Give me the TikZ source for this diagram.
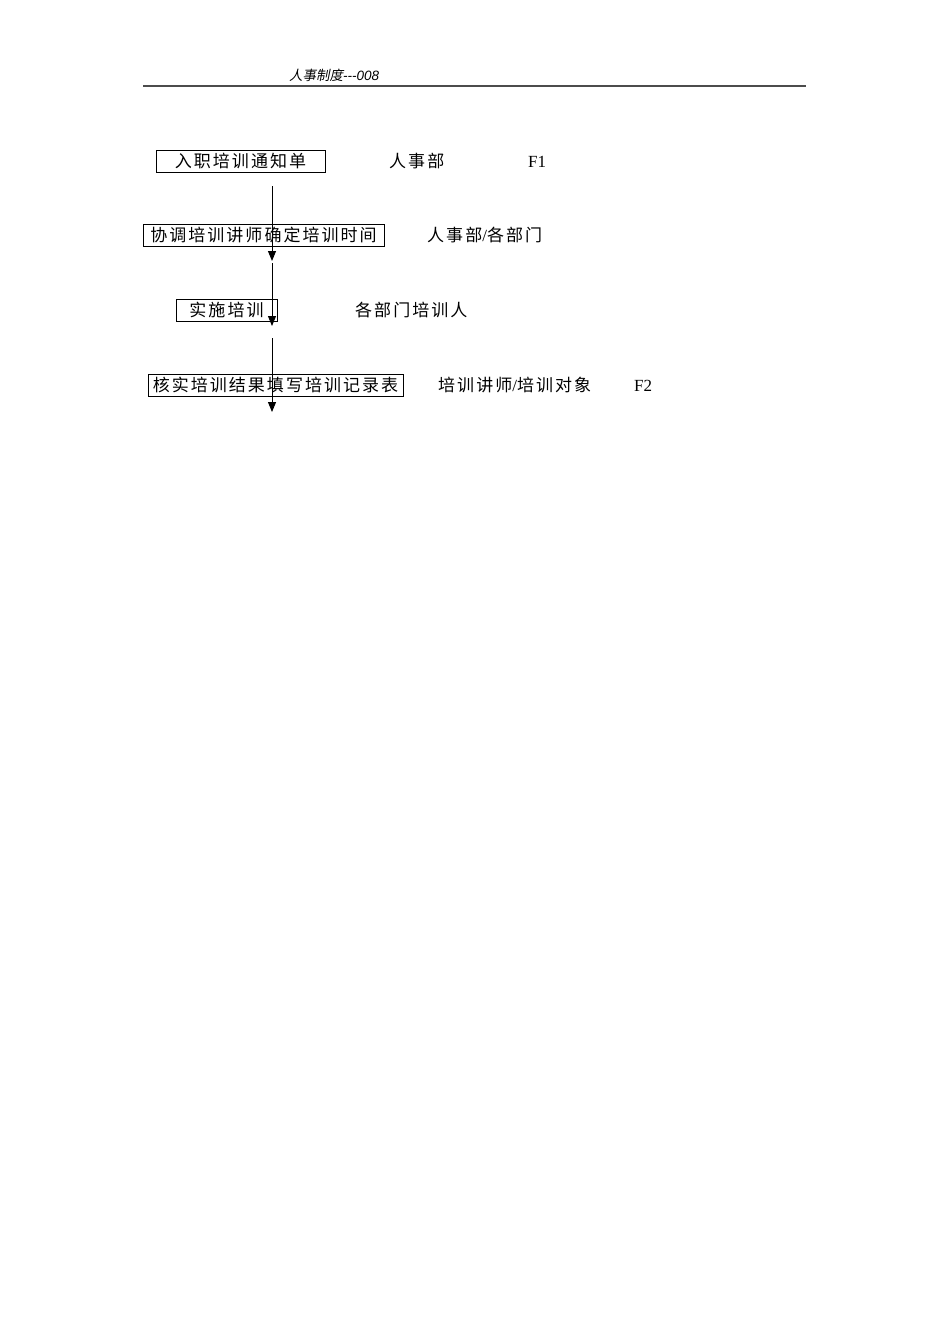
\documentclass[tikz,border=0pt]{standalone}
\usepackage{fontspec}
\setmainfont{Liberation Serif}
\newfontfamily\cjk[LetterSpace=12]{Noto Sans CJK SC}
\newfontfamily\cjkhead[FakeSlant=0.2]{Noto Sans CJK SC}
\newfontfamily\headlatin{Liberation Sans}
\usetikzlibrary{arrows.meta}
\begin{document}
\begin{tikzpicture}[x=1pt,y=-1pt,
  stepbox/.style={draw,line width=0.9pt,inner sep=0pt,minimum height=22pt,font=\fontsize{17}{20}\selectfont\cjk},
  lbl/.style={anchor=west,inner sep=0pt,font=\fontsize{17}{20}\selectfont},
  flow/.style={line width=1pt,-{Triangle[length=10pt,width=8pt]}}]
\useasboundingbox[fill=white] (0,0) rectangle (950,1344);
% header
\node[anchor=west,inner sep=0pt,font=\fontsize{13.5}{15}\selectfont] (hdr) at (289,75) {{\cjkhead 人事制度}{\headlatin\itshape ---008}};
\draw[line width=1.8pt,black!70] (143,86) coordinate (r1) -- (806,86) coordinate (r2);
% boxes
\node[stepbox,minimum width=169pt] (b1) at (240.5,161) {入职培训通知单};
\node[stepbox,minimum width=241pt] (b2) at (263.5,235.5) {协调培训讲师确定培训时间};
\node[stepbox,minimum width=101pt] (b3) at (226.5,310) {实施培训};
\node[stepbox,minimum width=255pt] (b4) at (275.5,385) {核实培训结果填写培训记录表};
% labels
\node[lbl] (l1) at (389,161) {\cjk 人事部};
\node[lbl] (f1) at (528,162) {F1};
\node[lbl] (l2) at (427,235) {{\cjk 人事部}/{\cjk 各部门}};
\node[lbl] (l3) at (355,310) {\cjk 各部门培训人};
\node[lbl] (l4) at (438,385) {{\cjk 培训讲师}/{\cjk 培训对象}};
\node[lbl] (f2) at (634,386) {F2};
% arrows
\coordinate (a1s) at (272,186); \coordinate (a1e) at (272,261);
\coordinate (a2s) at (272,263); \coordinate (a2e) at (272,326);
\coordinate (a3s) at (272,338); \coordinate (a3e) at (272,412);
\draw[flow] (a1s) -- (a1e);
\draw[flow] (a2s) -- (a2e);
\draw[flow] (a3s) -- (a3e);
\end{tikzpicture}
\end{document}
